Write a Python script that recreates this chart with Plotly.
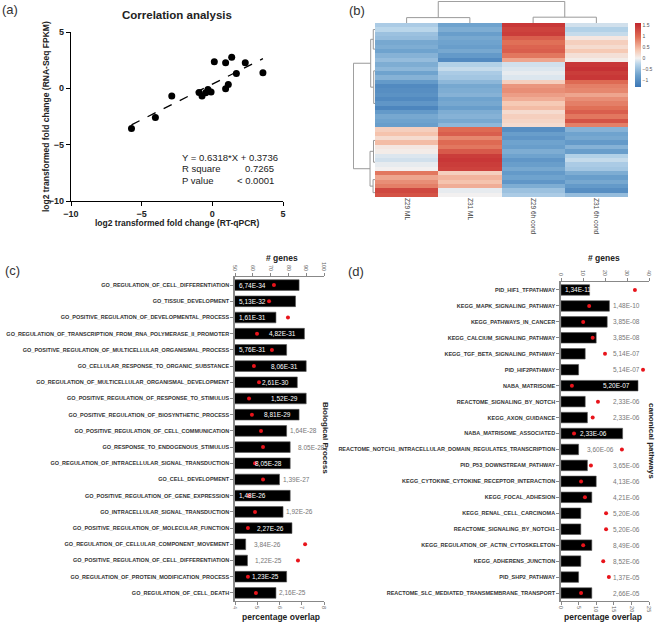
import plotly.graph_objects as go

W, H = 656, 623
def fx(px): return px / W
def fy(py): return 1 - py / H

FONT = "Liberation Sans, Arial, sans-serif"

# ---------------- Panel (a) data ----------------
qpcr_fc = [-5.72, -4.03, -2.87, -0.94, -0.73, -0.47, -0.31, -0.09, 0.14, 0.94, 0.94, 1.13, 1.37, 1.70, 2.33, 3.58]
rnaseq_fc = [-3.57, -2.59, -0.69, -0.36, -0.69, -0.39, -0.10, -0.33, 2.36, 2.27, -0.04, 0.35, 2.75, 1.32, 2.27, 1.38]
fit_slope = 0.6318
fit_intercept = 0.3736
fit_r2 = "0.7265"
fit_p = "< 0.0001"

# ---------------- Panel (b) data ----------------
heat_cols = ["Z29 ML", "Z31 ML", "Z29 6h cond", "Z31 6h cond"]
heat_z = [
    [-0.35, -0.75, 1.45, -0.15], [-0.25, -0.65, 1.35, -0.30], [-0.45, -0.80, 1.40, -0.20],
    [-0.50, -0.70, 1.10, 0.10], [-0.70, -0.75, 0.95, 0.30], [-0.65, -0.80, 1.05, 0.20],
    [-0.75, -0.70, 1.10, 0.35], [-0.60, -0.85, 0.90, 0.15], [-0.50, -1.05, 0.60, 0.05],
    [-0.65, -0.30, -0.15, 1.45], [-0.55, -0.20, -0.10, 1.50], [-0.75, -0.35, -0.05, 1.40],
    [-0.60, -0.40, -0.10, 1.45], [-0.85, -0.55, 0.30, 1.00], [-1.05, -0.70, 0.70, 0.85],
    [-1.00, -0.65, 0.75, 0.80], [-0.95, -0.60, 0.65, 0.60], [-1.05, -0.75, 0.55, 0.75],
    [-0.90, -0.70, 0.35, 0.85], [-1.10, -0.80, 0.45, 0.95], [-0.85, -0.65, 0.20, 1.10],
    [-0.70, -0.60, 0.30, 0.90], [-0.75, -0.70, 0.25, 1.20], [-0.80, -0.55, 0.20, 0.85],
    [0.30, 1.00, -1.00, -0.60], [0.40, 1.10, -0.80, -0.75], [0.20, 0.80, -0.90, -0.70],
    [0.45, 1.00, -0.75, -0.85], [0.10, 0.90, -0.80, -0.60], [0.05, 1.15, -0.65, -0.80],
    [-0.10, 1.40, -0.75, -0.30], [-0.15, 1.45, -0.90, -0.20], [-0.05, 1.40, -0.80, -0.35],
    [0.00, 1.35, -0.70, -0.40], [0.90, 0.30, -0.85, -0.65], [0.60, 0.50, -0.75, -0.80],
    [0.75, 0.40, -0.90, -0.70], [0.85, 0.55, -0.65, -0.85], [1.30, -0.05, -0.45, -1.00],
    [1.20, 0.00, -0.35, -0.50],
]
# column dendrogram (merge heights) and row dendrogram (row groups + merge heights)
col_tree = (1.0, (0.25, 0, 1), (0.27, 2, 3))
row_groups = [(0, 2), (3, 8), (9, 12), (13, 23), (24, 29), (30, 33), (34, 37), (38, 39)]
row_tree = (1.0, (0.2, (0.08, 0, 1), (0.06, 2, 3)), (0.23, (0.07, 4, 5), (0.09, 6, 7)))

# ---------------- Panel (c) data ----------------
c_terms = [
    "GO_REGULATION_OF_CELL_DIFFERENTIATION", "GO_TISSUE_DEVELOPMENT",
    "GO_POSITIVE_REGULATION_OF_DEVELOPMENTAL_PROCESS",
    "GO_REGULATION_OF_TRANSCRIPTION_FROM_RNA_POLYMERASE_II_PROMOTER",
    "GO_POSITIVE_REGULATION_OF_MULTICELLULAR_ORGANISMAL_PROCESS",
    "GO_CELLULAR_RESPONSE_TO_ORGANIC_SUBSTANCE",
    "GO_REGULATION_OF_MULTICELLULAR_ORGANISMAL_DEVELOPMENT",
    "GO_POSITIVE_REGULATION_OF_RESPONSE_TO_STIMULUS",
    "GO_POSITIVE_REGULATION_OF_BIOSYNTHETIC_PROCESS",
    "GO_POSITIVE_REGULATION_OF_CELL_COMMUNICATION",
    "GO_RESPONSE_TO_ENDOGENOUS_STIMULUS",
    "GO_REGULATION_OF_INTRACELLULAR_SIGNAL_TRANSDUCTION", "GO_CELL_DEVELOPMENT",
    "GO_POSITIVE_REGULATION_OF_GENE_EXPRESSION", "GO_INTRACELLULAR_SIGNAL_TRANSDUCTION",
    "GO_POSITIVE_REGULATION_OF_MOLECULAR_FUNCTION",
    "GO_REGULATION_OF_CELLULAR_COMPONENT_MOVEMENT",
    "GO_POSITIVE_REGULATION_OF_CELL_DIFFERENTIATION",
    "GO_REGULATION_OF_PROTEIN_MODIFICATION_PROCESS", "GO_REGULATION_OF_CELL_DEATH",
]
c_genes = [86, 84, 73, 89, 79, 90, 85, 90, 86, 79, 81, 81, 75, 81, 77, 82, 56, 57, 79, 73]
c_overlap = [5.75, 5.53, 6.38, 4.99, 5.66, 4.85, 5.08, 4.63, 4.76, 5.17, 5.26, 4.90, 5.26,
             4.63, 4.90, 4.58, 7.15, 6.83, 4.58, 4.94]
c_pvals = ["6,74E-34", "5,13E-32", "1,61E-31", "4,82E-31", "5,76E-31", "8,06E-31", "2,61E-30",
           "1,52E-29", "8,81E-29", "1,64E-28", "8.05E-28", "8,05E-28", "1,39E-27", "1,48E-26",
           "1,92E-26", "2,27E-26", "3,84E-26", "1,22E-25", "1,23E-25", "2,16E-25"]
c_label_mode = ["start", "start", "start", "end", "start", "end", "end", "end", "end", "out",
                "gap", "end", "out", "start", "out", "end", "gap", "gap", "end", "out"]

# ---------------- Panel (d) data ----------------
d_terms = [
    "PID_HIF1_TFPATHWAY", "KEGG_MAPK_SIGNALING_PATHWAY", "KEGG_PATHWAYS_IN_CANCER",
    "KEGG_CALCIUM_SIGNALING_PATHWAY", "KEGG_TGF_BETA_SIGNALING_PATHWAY", "PID_HIF2PATHWAY",
    "NABA_MATRISOME", "REACTOME_SIGNALING_BY_NOTCH", "KEGG_AXON_GUIDANCE",
    "NABA_MATRISOME_ASSOCIATED",
    "REACTOME_NOTCH1_INTRACELLULAR_DOMAIN_REGULATES_TRANSCRIPTION",
    "PID_P53_DOWNSTREAM_PATHWAY", "KEGG_CYTOKINE_CYTOKINE_RECEPTOR_INTERACTION",
    "KEGG_FOCAL_ADHESION", "KEGG_RENAL_CELL_CARCINOMA", "REACTOME_SIGNALING_BY_NOTCH1",
    "KEGG_REGULATION_OF_ACTIN_CYTOSKELETON", "KEGG_ADHERENS_JUNCTION", "PID_SHP2_PATHWAY",
    "REACTOME_SLC_MEDIATED_TRANSMEMBRANE_TRANSPORT",
]
d_genes = [13, 22, 21, 16, 11, 8, 35, 11, 12, 28, 8, 12, 16, 14, 9, 9, 14, 9, 8, 14]
d_overlap = [21.0, 8.0, 6.3, 9.0, 12.5, 23.3, 3.1, 10.5, 9.0, 3.7, 17.3, 8.5, 5.7, 6.8,
             12.8, 12.8, 6.3, 12.0, 13.6, 5.7]
d_pvals = ["1,34E-11", "1,48E-10", "3,85E-08", "3,85E-08", "5,14E-07", "5,14E-07", "5,20E-07",
           "2,33E-06", "2,33E-06", "2,33E-06", "3,60E-06", "3,65E-06", "4,13E-06", "4,21E-06",
           "5,20E-06", "5,20E-06", "8,49E-06", "8,52E-06", "1,37E-05", "2,66E-05"]
d_label_mode = ["start", "fixed", "fixed", "fixed", "fixed", "fixed", "end", "fixed", "fixed",
                "mid", "gap", "fixed", "fixed", "fixed", "fixed", "fixed", "fixed", "fixed",
                "fixed", "fixed"]

fig = go.Figure()
ann = []

def pann(text, px, py, size, xanchor="center", yanchor="middle", angle=0, color="#222"):
    ann.append(dict(text=text, x=fx(px), y=fy(py), xref="paper", yref="paper", showarrow=False,
                    xanchor=xanchor, yanchor=yanchor, textangle=angle,
                    font=dict(size=size, color=color)))

# ---------- Panel (a) ----------
fig.add_trace(go.Scatter(x=qpcr_fc, y=rnaseq_fc, mode="markers",
                         marker=dict(color="black", size=7), xaxis="x", yaxis="y",
                         showlegend=False))
xs = [min(qpcr_fc), max(qpcr_fc)]
fig.add_trace(go.Scatter(x=xs, y=[fit_slope * v + fit_intercept for v in xs], mode="lines",
                         line=dict(color="black", width=1.3, dash="dash"),
                         xaxis="x", yaxis="y", showlegend=False))
pann("<b>Correlation analysis</b>", 177, 15, 11.5)
pann("<b>log2 transformed fold change (RT-qPCR)</b>", 177, 223, 8.5)
pann("<b>log2 transformed fold change (RNA-Seq FPKM)</b>", 46, 117, 8.5, angle=-90)
eq = f"Y = {fit_slope}*X + {fit_intercept}"
for txt, yy in [(eq, -6.1), ("R square", -7.15), ("P value", -8.2)]:
    ann.append(dict(text=txt, x=-2.3, y=yy, xref="x", yref="y", xanchor="left", showarrow=False,
                    font=dict(size=9.5, color="#222")))
for txt, yy in [(fit_r2, -7.15), (fit_p, -8.2)]:
    ann.append(dict(text=txt, x=4.5, y=yy, xref="x", yref="y", xanchor="right", showarrow=False,
                    font=dict(size=9.5, color="#222")))

# ---------- Panel (b) ----------
colorscale = [[0, "#3b76b5"], [0.18, "#6ba0cc"], [0.36, "#b9d5ea"], [0.45, "#f3f1f0"],
              [0.58, "#f6c6b0"], [0.78, "#e06e55"], [1, "#c0262e"]]
fig.add_trace(go.Heatmap(z=heat_z, x=heat_cols, y=list(range(len(heat_z))), colorscale=colorscale,
                         zmin=-1.3, zmax=1.6, xaxis="x2", yaxis="y2",
                         colorbar=dict(x=fx(635), xanchor="left", y=fy(55), yanchor="middle",
                                       len=64 / H, thickness=6, outlinewidth=0, xpad=0, ypad=0,
                                       tickvals=[-1, -0.5, 0, 0.5, 1, 1.5],
                                       tickfont=dict(size=5, color="#555", family=FONT),
                                       ticks="")))

def dendro(node, leafpos):
    """return (pos, height, xs, ys) for tree node"""
    if not isinstance(node, tuple):
        return leafpos(node), 0.0, [], []
    h, l, r = node
    pl, hl, xl, yl = dendro(l, leafpos)
    pr, hr, xr, yr = dendro(r, leafpos)
    xs_ = xl + xr + [pl, pl, pr, pr, None]
    ys_ = yl + yr + [hl, h, h, hr, None]
    return (pl + pr) / 2, h, xs_, ys_

_, _, cdx, cdy = dendro(col_tree, lambda i: i)
fig.add_trace(go.Scatter(x=cdx, y=cdy, mode="lines", line=dict(color="#999", width=1),
                         xaxis="x3", yaxis="y3", showlegend=False, hoverinfo="skip"))
_, _, rdp, rdh = dendro(row_tree, lambda g: (row_groups[g][0] + row_groups[g][1]) / 2)
fig.add_trace(go.Scatter(x=rdh, y=rdp, mode="lines", line=dict(color="#999", width=1),
                         xaxis="x4", yaxis="y4", showlegend=False, hoverinfo="skip"))

# ---------- Panels (c), (d) ----------
layout_ranges = {"x5": [50, 100], "x7": [0, 40]}

def bar_panel(terms, genes, overlap, pvals, modes, xg, xp, ya, fixed_x=None):
    fig.add_trace(go.Bar(x=genes, y=list(range(len(terms))), orientation="h",
                         marker=dict(color="black", line=dict(color="#555", width=0.6)),
                         width=0.66, xaxis=xg, yaxis=ya, showlegend=False))
    fig.add_trace(go.Scatter(x=overlap, y=list(range(len(terms))), mode="markers",
                             marker=dict(color="#e8141b", size=4), xaxis=xp, yaxis=ya,
                             showlegend=False))
    lo = layout_ranges[xg][0]
    for i, (g, p, m) in enumerate(zip(genes, pvals, modes)):
        d = dict(text=p, y=i, xref=xg, yref=ya, showarrow=False, yanchor="middle",
                 font=dict(size=6.5, family=FONT))
        if m == "start":
            d.update(x=lo, xanchor="left", xshift=2, font_color="white")
        elif m == "end":
            d.update(x=g, xanchor="right", xshift=-6, font_color="white")
        elif m == "mid":
            d.update(x=(lo + g) / 2, xanchor="center", xshift=2, font_color="white")
        elif m == "out":
            d.update(x=g, xanchor="left", xshift=1, font_color="#777")
        elif m == "gap":
            d.update(x=g, xanchor="left", xshift=6, font_color="#777")
        else:
            d.update(x=fixed_x, xanchor="left", font_color="#777")
        ann.append(d)

bar_panel(c_terms, c_genes, c_overlap, c_pvals, c_label_mode, "x5", "x6", "y5")
bar_panel(d_terms, d_genes, d_overlap, d_pvals, d_label_mode, "x7", "x8", "y7", fixed_x=22.6)

pann("<b># genes</b>", 282, 258, 8.5)
pann("<b>percentage overlap</b>", 281, 617, 8.5)
pann("<b># genes</b>", 604, 258, 8.5)
pann("<b>percentage overlap</b>", 603, 617, 8.5)
pann("<b>Biological Process</b>", 326, 438, 8, angle=90)
pann("<b>canonical pathways</b>", 651, 441, 8, angle=90)

for txt, xx, yy in [("(a)", 0, 0), ("(b)", 347, 1), ("(c)", 3, 261), ("(d)", 346, 262)]:
    pann(txt, xx, yy, 13, xanchor="left", yanchor="top", color="#333")

small = dict(size=5.5, color="#666", family=FONT)
lab = dict(size=5.5, color="#333", family=FONT, weight="bold")
hide = dict(visible=False, showgrid=False, zeroline=False, automargin=False)
base = dict(automargin=False, showgrid=False, zeroline=False)

fig.update_layout(
    template="none",
    width=W, height=H, margin=dict(l=0, r=0, t=0, b=0, autoexpand=False),
    paper_bgcolor="white", plot_bgcolor="rgba(0,0,0,0)",
    font=dict(family=FONT, color="#222"),
    showlegend=False,
    annotations=ann,
    # panel a
    xaxis=dict(domain=[fx(71), fx(283)], anchor="y", range=[-10, 5], dtick=5, showline=True,
               linecolor="black", linewidth=1.2, ticks="outside", ticklen=4, tickcolor="black",
               tickfont=dict(size=9, color="#222", weight="bold"), **base),
    yaxis=dict(domain=[fy(201), fy(32)], anchor="x", range=[-10, 5], dtick=5, showline=True,
               linecolor="black", linewidth=1.2, ticks="outside", ticklen=4, tickcolor="black",
               tickfont=dict(size=9, color="#222", weight="bold"), **base),
    # heatmap
    xaxis2=dict(domain=[fx(375), fx(628)], anchor="y2", tickangle=90, ticks="",
                tickfont=dict(size=6.5, color="#444"), **base),
    yaxis2=dict(domain=[fy(197), fy(23)], anchor="x2", autorange="reversed",
                showticklabels=False, ticks="", **base),
    xaxis3=dict(domain=[fx(375), fx(628)], anchor="y3", range=[-0.5, 3.5], **hide),
    yaxis3=dict(domain=[fy(23), fy(1)], anchor="x3", range=[0, 1.02], **hide),
    xaxis4=dict(domain=[fx(353), fx(375)], anchor="y4", range=[1.02, 0], **hide),
    yaxis4=dict(domain=[fy(197), fy(23)], anchor="x4", range=[len(heat_z) - 0.5, -0.5], **hide),
    # panel c
    xaxis5=dict(domain=[fx(235), fx(324)], anchor="y5", side="top", range=[50, 100], dtick=10,
                tickangle=90, ticks="outside", ticklen=3, showline=True, linecolor="#888",
                tickcolor="#888", tickfont=small, **base),
    xaxis6=dict(domain=[fx(235), fx(324)], anchor="y5", overlaying="x5", side="bottom",
                range=[4, 8], dtick=1, tickangle=90, ticks="outside", ticklen=3, showline=True,
                linecolor="#888", tickcolor="#888", tickfont=small, **base),
    yaxis5=dict(domain=[fy(601), fy(277)], anchor="x5", range=[19.5, -0.5],
                tickvals=list(range(len(c_terms))), ticktext=c_terms, ticks="outside",
                ticklen=3, tickcolor="#888", showline=True, linecolor="#888", linewidth=1.5,
                tickfont=lab, **base),
    # panel d
    xaxis7=dict(domain=[fx(561), fx(649)], anchor="y7", side="top", range=[0, 40], dtick=10,
                tickangle=90, ticks="outside", ticklen=3, showline=True, linecolor="#888",
                tickcolor="#888", tickfont=small, **base),
    xaxis8=dict(domain=[fx(561), fx(649)], anchor="y7", overlaying="x7", side="bottom",
                range=[0, 25], dtick=5, tickangle=90, ticks="outside", ticklen=3, showline=True,
                linecolor="#888", tickcolor="#888", tickfont=small, **base),
    yaxis7=dict(domain=[fy(601), fy(282)], anchor="x7", range=[19.5, -0.5],
                tickvals=list(range(len(d_terms))), ticktext=d_terms, ticks="outside",
                ticklen=3, tickcolor="#888", showline=True, linecolor="#888", linewidth=1.5,
                tickfont=lab, **base),
)

fig.write_html("out.html", config={"displayModeBar": False},
               post_script="document.body.style.margin='0px';document.body.style.padding='0px';")
